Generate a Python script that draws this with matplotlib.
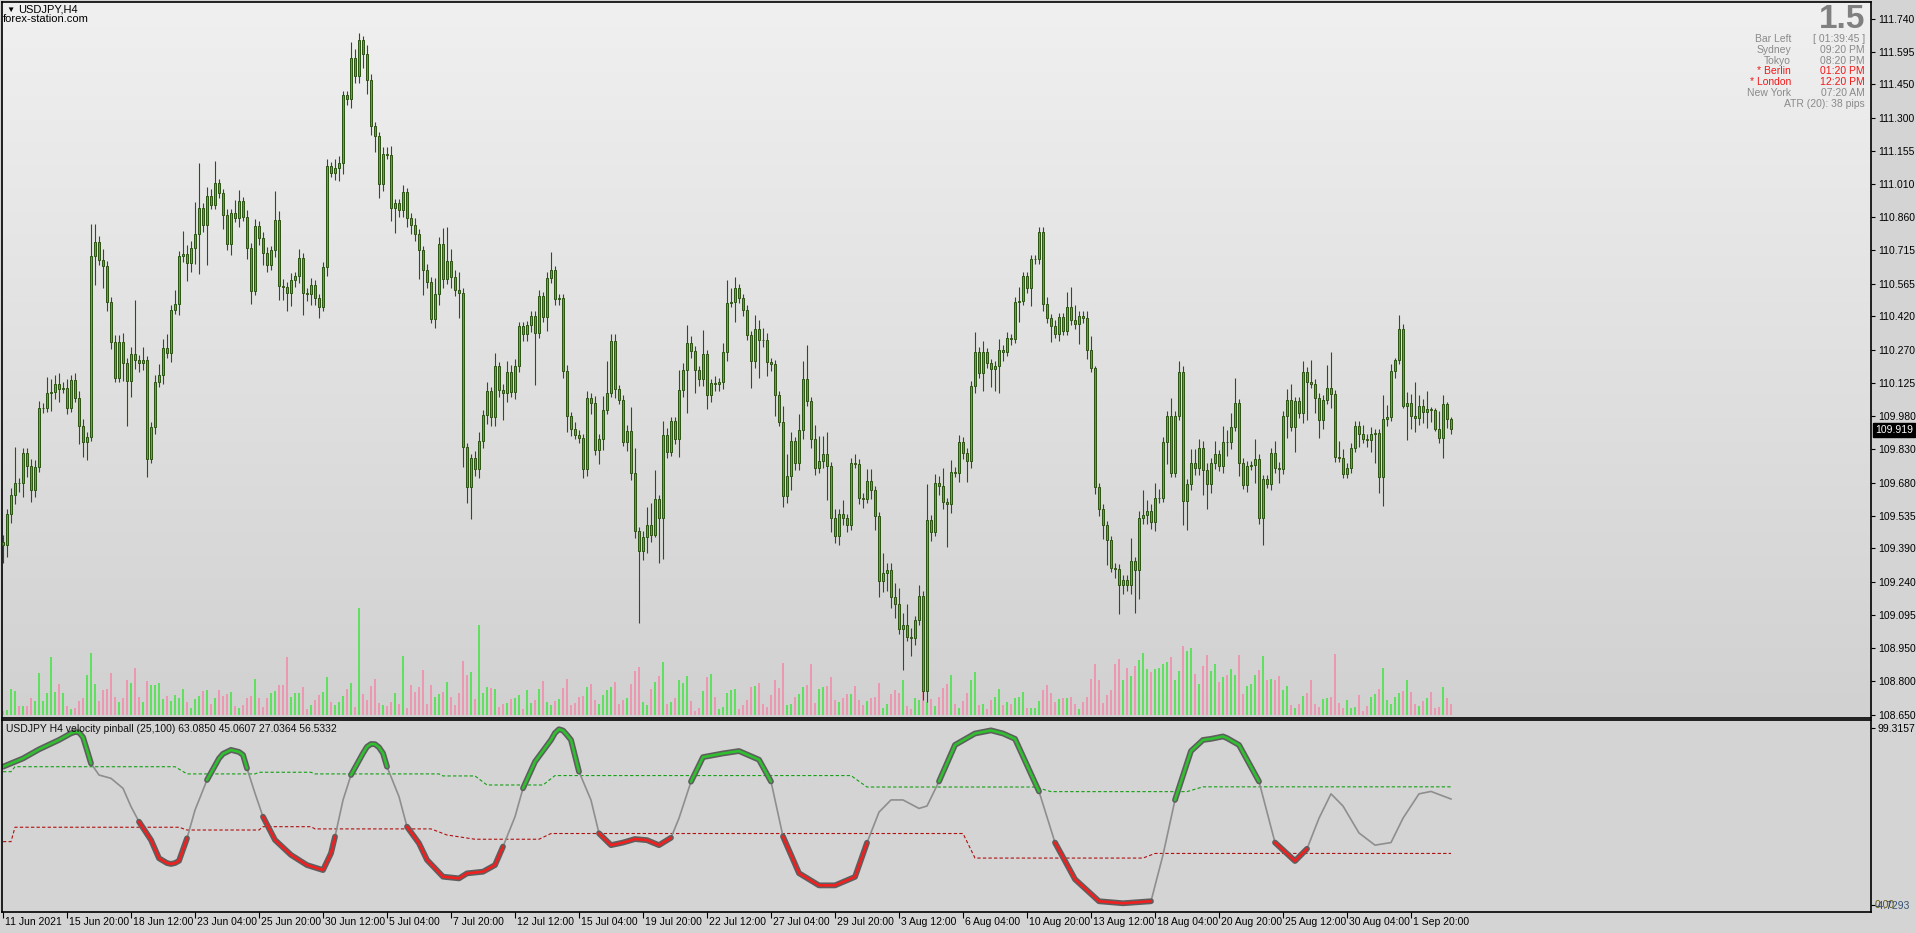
import numpy as np
import matplotlib.pyplot as plt
from matplotlib.colors import LinearSegmentedColormap
from matplotlib.transforms import blended_transform_factory

plt.rcParams['font.family'] = ['Liberation Sans', 'DejaVu Sans']

# USDJPY H4 candles (open of each bar = previous close)
first_open = 109.42
closes = [
    109.404, 109.543, 109.626, 109.682, 109.680, 109.815, 109.755, 109.648, 109.751, 110.013,
    110.015, 110.082, 110.084, 110.118, 110.098, 110.100, 110.015, 110.138, 110.059, 109.934,
    109.864, 109.886, 110.690, 110.749, 110.670, 110.646, 110.485, 110.307, 110.148, 110.307,
    110.214, 110.134, 110.253, 110.227, 110.212, 110.225, 109.787, 109.930, 110.128, 110.158,
    110.281, 110.257, 110.450, 110.476, 110.690, 110.698, 110.658, 110.724, 110.787, 110.902,
    110.827, 110.956, 110.916, 111.011, 110.966, 110.869, 110.743, 110.878, 110.857, 110.932,
    110.863, 110.724, 110.535, 110.823, 110.767, 110.700, 110.648, 110.714, 110.847, 110.555,
    110.551, 110.525, 110.581, 110.599, 110.680, 110.525, 110.520, 110.561, 110.501, 110.462,
    110.640, 111.087, 111.057, 111.081, 111.101, 111.403, 111.387, 111.567, 111.486, 111.647,
    111.583, 111.468, 111.264, 111.220, 111.006, 111.140, 111.137, 110.902, 110.922, 110.892,
    110.972, 110.859, 110.827, 110.787, 110.714, 110.624, 110.575, 110.410, 110.521, 110.743,
    110.585, 110.668, 110.595, 110.539, 110.525, 109.840, 109.662, 109.791, 109.741, 109.866,
    109.983, 110.088, 109.975, 110.198, 110.092, 110.080, 110.174, 110.084, 110.202, 110.376,
    110.341, 110.380, 110.422, 110.346, 110.509, 110.416, 110.589, 110.624, 110.499, 110.500,
    110.176, 109.977, 109.920, 109.894, 109.880, 109.741, 110.059, 110.035, 109.826, 109.876,
    110.005, 110.082, 110.313, 110.096, 110.049, 109.864, 109.910, 109.725, 109.467, 109.378,
    109.439, 109.493, 109.449, 109.608, 109.523, 109.894, 109.820, 109.955, 109.874, 110.092,
    110.182, 110.303, 110.267, 110.182, 110.142, 110.251, 110.069, 110.124, 110.120, 110.128,
    110.263, 110.481, 110.485, 110.545, 110.501, 110.450, 110.337, 110.223, 110.366, 110.317,
    110.315, 110.217, 110.208, 110.069, 109.953, 109.622, 109.711, 109.866, 109.767, 109.916,
    110.142, 110.043, 109.876, 109.745, 109.777, 109.807, 109.755, 109.523, 109.443, 109.543,
    109.523, 109.493, 109.771, 109.765, 109.616, 109.610, 109.691, 109.648, 109.533, 109.245,
    109.279, 109.294, 109.175, 109.142, 109.030, 109.052, 108.997, 108.992, 109.072, 109.179,
    108.758, 109.517, 109.463, 109.682, 109.666, 109.596, 109.588, 109.731, 109.725, 109.864,
    109.815, 109.777, 110.112, 110.263, 110.168, 110.261, 110.212, 110.188, 110.200, 110.271,
    110.263, 110.323, 110.321, 110.485, 110.489, 110.599, 110.545, 110.674, 110.674, 110.797,
    110.476, 110.412, 110.376, 110.343, 110.416, 110.356, 110.460, 110.402, 110.386, 110.422,
    110.412, 110.271, 110.192, 109.662, 109.566, 109.493, 109.427, 109.304, 109.300, 109.229,
    109.251, 109.229, 109.334, 109.294, 109.527, 109.539, 109.556, 109.507, 109.612, 109.614,
    109.864, 109.979, 109.725, 109.979, 110.172, 109.602, 109.678, 109.771, 109.745, 109.836,
    109.737, 109.676, 109.771, 109.807, 109.755, 109.864, 109.862, 109.930, 110.035, 109.771,
    109.672, 109.757, 109.760, 109.787, 109.527, 109.697, 109.678, 109.815, 109.745, 109.741,
    109.979, 110.049, 109.930, 110.043, 109.989, 110.174, 110.128, 110.122, 110.059, 109.959,
    110.049, 110.104, 110.075, 109.795, 109.793, 109.721, 109.747, 109.836, 109.934, 109.900,
    109.876, 109.870, 109.900, 109.902, 109.707, 109.963, 109.975, 110.178, 110.227, 110.366,
    110.023, 110.035, 109.979, 109.969, 110.023, 109.995, 110.009, 110.003, 109.920, 109.880,
    110.029, 109.963, 109.919,
]
# wick lengths above / below the body, in pips
up_pips = [
    3, 2, 3, 16, 2, 2, 2, 3, 3, 3, 2, 7, 6, 4, 5, 3, 4, 2, 3, 3,
    3, 2, 14, 8, 3, 5, 2, 2, 3, 3, 4, 2, 3, 24, 2, 6, 2, 2, 3, 5,
    4, 6, 2, 6, 2, 10, 4, 3, 14, 20, 2, 4, 3, 10, 2, 2, 3, 2, 6, 5,
    2, 3, 2, 3, 2, 3, 3, 2, 13, 4, 3, 2, 3, 2, 4, 2, 2, 3, 2, 2,
    2, 3, 2, 4, 3, 2, 2, 7, 4, 3, 2, 4,
    3, 2, 2, 3, 3, 4, 2, 2, 3, 2, 2, 3, 2, 2, 3, 2, 7, 3, 7, 15,
    5, 3, 8, 2, 2, 2, 3, 4, 2, 4, 2, 6, 2, 3, 5, 3, 3, 2, 2, 2,
    2, 2, 3, 2, 3, 8, 2, 2, 2, 3, 2, 3, 2, 2, 3, 2, 3, 2, 6, 14,
    3, 3, 2, 2, 3, 11, 11, 2, 3, 8, 10, 13, 2, 6, 3, 2, 2, 9, 3, 8,
    3, 2, 2, 11, 2, 2, 3, 2, 4, 10, 6,
    5, 2, 2, 2, 2, 6, 4, 5, 3, 2, 2, 2, 7, 10, 4, 2, 7, 8, 15, 2,
    6, 11, 8, 10, 2, 4, 2, 6, 2, 2, 4, 2, 2, 5, 5, 2, 2, 9, 3, 3,
    6, 7, 5, 9, 4, 2, 5, 2, 16, 2, 4, 3, 8, 2, 5, 2, 3, 2, 2, 2,
    9, 2, 5, 2, 2, 2, 5, 2, 3, 2, 2, 6, 2, 2, 2, 2, 2, 2, 3, 2,
    3, 2, 2, 7, 9, 7, 2, 2, 3, 6, 1, 2,
    2, 2, 2, 2, 2, 2, 2, 10, 2, 3, 11, 5, 3, 7, 4, 2, 2, 8, 2, 5,
    3, 2, 6, 6, 4, 3, 3, 2, 6, 2, 7, 5, 6, 11, 2, 2, 2, 2, 9, 2,
    2, 2, 2, 5, 3, 2, 5, 7, 2, 2, 5, 2, 10, 2, 2, 2, 10, 16, 2, 7,
    4, 2, 2, 2, 2, 4, 2, 3, 2, 2, 11, 5, 3, 1, 6, 2, 5, 4, 15, 5,
    3, 8, 1, 1, 8, 4, 1, 1,
]
low_pips = [
    8, 5, 4, 4, 4, 6, 5, 5, 3, 2, 2, 2, 8, 3, 6, 2, 3, 2, 2, 8,
    7, 8, 2, 13, 2, 10, 4, 3, 2, 2, 8, 20, 7, 4, 4, 3, 8, 2, 3, 2,
    4, 2, 4, 2, 5, 3, 8, 4, 7, 18, 3, 18, 2, 2, 2, 6, 3, 5, 2, 4,
    2, 5, 6, 2, 3, 5, 3, 2, 3, 6, 6, 8, 6, 3, 3, 10, 3, 5, 3, 5,
    2, 4, 2, 3, 6, 5, 3, 4, 3, 3, 6, 6,
    4, 7, 6, 3, 2, 6, 11, 3, 3, 4, 4, 3, 13, 11, 3, 2, 4, 5, 4, 2,
    5, 3, 11, 9, 7, 14, 3, 4, 3, 4, 4, 4, 3, 12, 4, 2, 3, 3, 3, 3,
    3, 23, 2, 2, 6, 2, 3, 3, 3, 7, 3, 2, 2, 4, 3, 5, 2, 6, 5, 2,
    2, 4, 2, 2, 4, 3, 3, 32, 4, 7, 3, 1, 20, 18, 3, 2, 2, 8, 3, 19,
    3, 10, 3, 3, 6, 3, 3, 3, 3, 4, 2,
    9, 2, 3, 2, 12, 3, 17, 3, 6, 3, 9, 2, 5, 3, 6, 3, 3, 4, 2, 4,
    3, 2, 3, 15, 6, 3, 4, 3, 3, 2, 2, 3, 4, 2, 4, 6, 7, 5, 8, 5,
    6, 2, 18, 2, 8, 3, 2, 4, 5, 4, 2, 4, 3, 19, 4, 2, 4, 3, 9, 3,
    3, 2, 8, 2, 8, 10, 12, 4, 2, 3, 2, 9, 2, 2, 8, 2, 2, 3, 2, 7,
    2, 3, 2, 2, 2, 2, 9, 2, 4, 2, 3, 3,
    6, 11, 2, 4, 13, 4, 3, 4, 19, 13, 3, 4, 3, 4, 2, 2, 10, 2, 2, 2,
    11, 13, 3, 3, 3, 11, 11, 4, 3, 2, 3, 6, 3, 2, 6, 2, 3, 2, 8, 3,
    12, 2, 3, 2, 6, 2, 10, 2, 11, 2, 4, 17, 2, 7, 8, 4, 2, 6, 2, 2,
    2, 2, 2, 2, 6, 2, 3, 5, 13, 7, 13, 3, 2, 3, 2, 1, 15, 6, 6, 3,
    5, 7, 5, 1, 2, 9, 4, 2,
]
volumes = [
    10, 12,
    59, 54, 21, 21, 21, 39, 32, 95, 32, 49, 130, 52, 70, 49, 21, 14, 16, 32, 39, 89,
    139, 70, 32, 57, 59, 95, 40, 29, 37, 79, 72, 105, 40, 30, 75, 67, 67, 72, 35, 42,
    32, 45, 37, 59, 30, 16, 35, 42, 54, 57, 24, 37, 57, 42, 47, 52, 20, 16, 22, 37,
    42, 80, 39, 19, 39, 50, 54, 67, 67, 130, 40, 50, 50, 62, 14, 22, 34, 45, 52, 84,
    30, 22, 30, 42, 59, 72, 19, 240, 47, 34,
    65, 80, 27, 22, 20, 30, 49, 24, 132, 15, 67, 52, 62, 101, 24, 67, 40, 47, 52, 74,
    40, 22, 49, 121, 89, 96, 36, 202, 49, 62, 60, 59, 19, 24, 27, 35, 39, 45, 13, 56,
    27, 34, 59, 76, 30, 23, 32, 36, 60, 80, 23, 27, 40, 42, 62, 69, 33, 25, 45, 57,
    62, 74, 24, 33, 38, 69, 98, 107, 30, 22, 59, 74, 88, 118, 24, 28, 38, 78, 72, 88,
    32, 10, 15, 54, 85, 92, 41, 14, 18, 49, 55,
    59, 14, 22, 34, 62, 64, 72, 25, 19, 45, 79, 61, 117, 22, 25, 40, 46, 62, 67, 115,
    27, 59, 62, 66, 84, 34, 29, 39, 47, 47, 64, 34, 23, 32, 38, 40, 72, 16, 25, 46,
    57, 49, 79, 21, 13, 39, 34, 62, 30, 36, 21, 41, 61, 69, 90, 25, 16, 32, 50, 79,
    97, 22, 25, 14, 34, 41, 59, 22, 29, 25, 37, 41, 52, 15, 15, 16, 31, 57, 68, 50,
    29, 35, 39, 37, 40, 25, 13, 28, 41, 81, 113, 78,
    27, 45, 57, 115, 125, 79, 105, 88, 110, 122, 139, 102, 96, 104, 105, 114, 119, 130, 79, 98,
    154, 144, 150, 92, 69, 110, 134, 98, 115, 74, 84, 90, 104, 90, 134, 47, 65, 69, 90, 100,
    132, 79, 80, 79, 87, 57, 65, 22, 15, 25, 42, 49, 78, 24, 18, 35, 37, 40, 137, 27,
    15, 34, 15, 19, 45, 10, 21, 40, 47, 59, 105, 34, 24, 40, 50, 54, 79, 51, 25, 21,
    32, 37, 51, 16, 18, 62, 37, 24,
]

price_ticks = [108.650, 108.800, 108.950, 109.095, 109.240, 109.390, 109.535, 109.680,
               109.830, 109.980, 110.125, 110.270, 110.420, 110.565, 110.715, 110.860,
               111.010, 111.155, 111.300, 111.450, 111.595, 111.740]
date_labels = ['11 Jun 2021', '15 Jun 20:00', '18 Jun 12:00', '23 Jun 04:00', '25 Jun 20:00',
               '30 Jun 12:00', '5 Jul 04:00', '7 Jul 20:00', '12 Jul 12:00', '15 Jul 04:00',
               '19 Jul 20:00', '22 Jul 12:00', '27 Jul 04:00', '29 Jul 20:00', '3 Aug 12:00',
               '6 Aug 04:00', '10 Aug 20:00', '13 Aug 12:00', '18 Aug 04:00', '20 Aug 20:00',
               '25 Aug 12:00', '30 Aug 04:00', '1 Sep 20:00']
bars_per_label = 16

# velocity pinball indicator
line_bars = [0, 5, 9, 14, 17, 18, 19, 20, 21, 22, 24, 27, 30, 32, 34, 37, 39, 41, 42, 43,
             44, 46, 48, 51, 54, 55, 57, 59, 60, 61, 63, 65, 68, 72, 76, 80, 82, 83, 85, 87,
             90, 91, 92, 93, 94, 95, 96, 99, 101, 104, 106, 110, 114, 116, 120, 123, 125, 128, 130, 133,
             137, 138, 139, 140, 141, 142, 144, 147, 149, 152, 155, 158, 161, 164, 167, 169, 172, 175, 180, 184,
             189, 192, 195, 199, 204, 208, 213, 216, 219, 222, 225, 229, 231, 234, 238, 243, 247, 250, 253, 259,
             263, 268, 274, 280, 287, 290, 293, 297, 300, 302, 305, 306, 309, 314, 318, 323, 326, 329, 332, 335,
             339, 343, 347, 350, 354, 357, 362]
line_vals = [74.0, 78.5, 83.4, 88.5, 92.1, 92.8, 92.6, 90.0, 83.0, 75.8, 69.5, 67.7, 62.3, 52.4, 44.2, 34.3, 24.4, 21.8, 21.3, 21.8,
             23.0, 35.2, 50.5, 66.8, 78.5, 81.0, 83.1, 82.0, 80.4, 73.1, 59.6, 46.9, 34.3, 26.2, 20.7, 18.0, 27.1, 36.1, 55.9, 69.5,
             81.3, 84.8, 86.3, 86.2, 84.5, 81.3, 74.0, 57.8, 41.5, 32.5, 23.5, 14.4, 13.5, 16.2, 17.1, 20.7, 30.7, 46.9, 62.3, 76.7,
             88.5, 92.3, 94.3, 93.6, 91.2, 88.5, 71.3, 55.9, 37.9, 31.5, 32.9, 34.8, 34.2, 31.5, 35.5, 46.1, 65.9, 79.2, 81.2, 82.5,
             77.8, 66.0, 36.2, 16.3, 9.7, 9.7, 14.3, 32.8, 49.4, 56.0, 56.0, 51.4, 52.7, 66.0, 85.8, 92.0, 93.7, 92.0, 89.1, 60.6,
             32.9, 13.0, 1.1, 0.0, 1.1, 26.2, 56.0, 82.5, 88.5, 89.1, 90.4, 89.5, 85.8, 66.0, 32.9, 22.9, 29.5, 46.1, 59.3, 52.7,
             38.1, 31.5, 32.9, 46.1, 59.3, 60.6, 56.5]
green_runs = [(0, 22), (51, 61), (87, 96), (130, 144), (172, 192), (234, 259), (293, 314)]
red_runs = [(34, 46), (65, 83), (101, 125), (149, 167), (195, 216), (263, 287), (318, 326)]
upper_bars = [0, 2, 3, 43, 46, 63, 64, 77, 78, 109, 110, 118, 121, 135, 138, 212, 216, 258, 262, 296, 300, 362]
upper_vals = [71.3, 71.3, 74.0, 74.0, 70.1, 70.1, 71.0, 71.0, 70.1, 70.1, 69.0, 69.0, 64.1, 64.1, 69.2, 69.2,
              63.0, 63.0, 60.5, 60.5, 63.1, 63.1]
lower_bars = [0, 2, 3, 44, 46, 64, 65, 77, 78, 107, 111, 118, 119, 134, 137, 240, 243, 285, 288, 362]
lower_vals = [33.4, 33.4, 41.2, 41.2, 39.7, 39.7, 41.5, 41.5, 40.3, 40.3, 37.0, 34.7, 34.7, 34.7, 37.8, 37.8,
              24.5, 24.5, 27.0, 27.0]

# ---------------------------------------------------------------
closes = np.array(closes)
opens = np.concatenate([[first_open], closes[:-1]])
highs = np.maximum(opens, closes) + np.array(up_pips) * 0.01
lows = np.minimum(opens, closes) - np.array(low_pips) * 0.01
idx = np.arange(len(closes))
bull = closes >= opens

W, H = 1916, 933
fig = plt.figure(figsize=(W / 100, H / 100), dpi=100, facecolor='#d4d4d4')


def box(l, t, r, b):
    return [l / W, 1 - b / H, (r - l) / W, (b - t) / H]


xlim = (-0.25, 467.0)

# volume layer with the gradient background
vol_ax = fig.add_axes(box(2, 2, 1871, 718), zorder=1)
grad = LinearSegmentedColormap.from_list('bg', ['#f0f0f0', '#d1d1d1'])
vol_ax.imshow(np.linspace(0, 1, 256).reshape(-1, 1), cmap=grad, aspect='auto',
              extent=[0, 1, 0, 1], transform=vol_ax.transAxes, zorder=0)
vol_colors = np.where(bull, '#5fe05f', '#eb98b0')
vol_ax.bar(idx, volumes, width=0.62, color=vol_colors, zorder=2)
vol_ax.set_xlim(*xlim)
vol_ax.set_ylim(-6.7, 1595)
vol_ax.axis('off')

# price layer
ax = fig.add_axes(box(2, 2, 1871, 718), zorder=2, facecolor='none')
edge = '#2a5412'
ax.vlines(idx, lows, highs, color=edge, lw=0.8, zorder=2)
ax.bar(idx, np.abs(closes - opens), bottom=np.minimum(opens, closes), width=0.66,
       color=np.where(bull, '#3cbf3c', '#e4603f'), edgecolor=edge, linewidth=0.7, zorder=3)
ax.set_xlim(*xlim)
ax.set_ylim(108.637, 111.816)
ax.set_xticks([])
ax.yaxis.tick_right()
ax.set_yticks(price_ticks, labels=[f'{p:.3f}' for p in price_ticks])
ax.tick_params(axis='y', direction='out', length=3, width=0.8, labelsize=7.5, pad=2)
for s in ax.spines.values():
    s.set_color('black')
    s.set_linewidth(1.2)

# current price marker
fig.text(1875 / W, 1 - 430 / H, f'{closes[-1]:.3f}', color='white', fontsize=7.5, va='center', ha='left',
         bbox=dict(boxstyle='square,pad=0.15', fc='black', ec='black'))

# indicator panel
ind = fig.add_axes(box(2, 720, 1871, 912), facecolor='#d4d4d4')
ind.set_xlim(*xlim)
ind.set_ylim(-4.7293, 99.3157)
lb = np.array(line_bars)
lv = np.array(line_vals)
ind.plot(upper_bars, upper_vals, color='#14a014', lw=0.8, ls=(0, (3, 2)))
ind.plot(lower_bars, lower_vals, color='#b01010', lw=0.8, ls=(0, (3, 2)))
ind.plot(lb, lv, color='#8e8e8e', lw=1.2)
for runs, col in ((green_runs, '#2fbf2f'), (red_runs, '#f02020')):
    for a, b in runs:
        m = (lb >= a) & (lb <= b)
        ind.plot(lb[m], lv[m], color='#5e5e5e', lw=4.2, solid_capstyle='round', solid_joinstyle='round')
        ind.plot(lb[m], lv[m], color=col, lw=1.9, solid_capstyle='round', solid_joinstyle='round')
ind.yaxis.tick_right()
ind.set_yticks([95.0, -0.9], labels=['99.3157', ''])
ind.tick_params(axis='y', direction='out', length=3, width=0.8, labelsize=7.5, pad=2)
ticks = np.arange(len(date_labels)) * bars_per_label
ind.set_xticks(ticks, labels=[''] * len(ticks))
ind.tick_params(axis='x', direction='out', length=4, width=0.8)
tr = blended_transform_factory(ind.transData, ind.transAxes)
for t, lab in zip(ticks, date_labels):
    ind.text(t + 0.6, -0.052, lab, transform=tr, fontsize=7.5, ha='left', va='center')
for s in ind.spines.values():
    s.set_color('black')
    s.set_linewidth(1.2)
ind.text(0.002, 0.955, 'USDJPY H4 velocity pinball (25,100) 63.0850 45.0607 27.0364 56.5332',
         transform=ind.transAxes, fontsize=7.5, va='center', ha='left', color='#111111')
# the two bottom scale labels sit on top of each other, as in MT4
fig.text(1875 / W, 1 - 905 / H, '0.00', fontsize=7.5, color='#6b5a10', va='center', ha='left')
fig.text(1875 / W, 1 - 906 / H, '-4.7293', fontsize=7.5, color='#10305a', va='center', ha='left', alpha=0.8)

# header texts
fig.text(6 / W, 1 - 10 / H, '\u25bc', fontsize=6, va='center', ha='left')
fig.text(18 / W, 1 - 10 / H, 'USDJPY,H4', fontsize=8, va='center', ha='left')
fig.text(3 / W, 1 - 19 / H, 'forex-station.com', fontsize=8, va='center', ha='left')

# info panel
fig.text(1865 / W, 1 - 19 / H, '1.5', fontsize=24, fontweight='bold', color='#808080', va='center', ha='right')
info_rows = [('Bar Left', '[ 01:39:45 ]', '#8a8a8a'), ('Sydney', '09:20 PM', '#8a8a8a'),
             ('Tokyo', '08:20 PM', '#8a8a8a'), ('* Berlin', '01:20 PM', '#f01818'),
             ('* London', '12:20 PM', '#f01818'), ('New York', '07:20 AM', '#8a8a8a')]
for k, (name, val, col) in enumerate(info_rows):
    y = 1 - (39 + k * 10.8) / H
    fig.text(1791 / W, y, name, fontsize=7.5, color=col, va='center', ha='right')
    fig.text(1865 / W, y, val, fontsize=7.5, color=col, va='center', ha='right')
fig.text(1865 / W, 1 - 104 / H, 'ATR (20): 38 pips', fontsize=7.5, color='#8a8a8a', va='center', ha='right')

fig.savefig('out.png', dpi=100, facecolor=fig.get_facecolor())
